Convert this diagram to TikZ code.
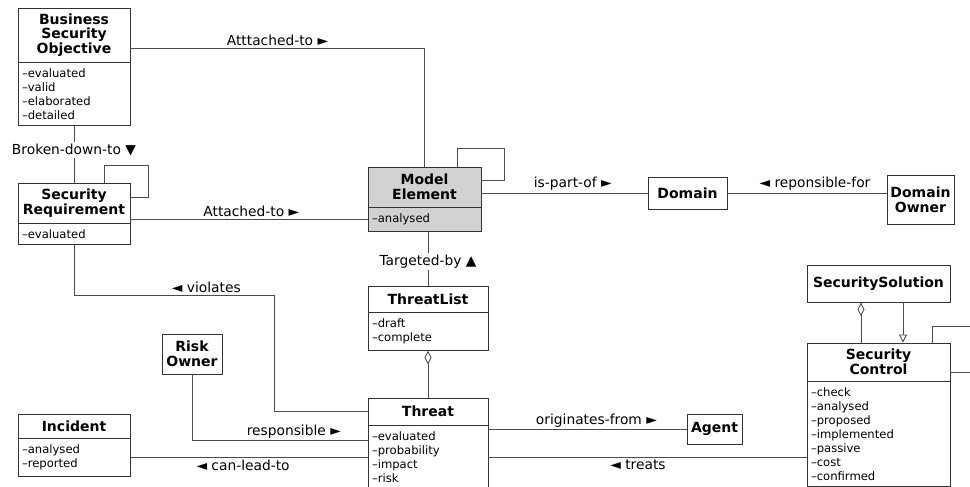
\documentclass[tikz,border=0pt]{standalone}
\usepackage{fontspec}
\setmainfont{DejaVu Sans}
\usetikzlibrary{arrows.meta,positioning}

\tikzset{
  hdr/.style={draw=black!80, fill=white, font=\bfseries\fontsize{14}{14.7}\selectfont, align=center, inner sep=1pt},
  attr/.style={draw=black!80, fill=white, font=\fontsize{11.6}{14}\selectfont, align=left, inner xsep=4pt, inner ysep=6pt},
  lbl/.style={font=\fontsize{13.8}{16}\selectfont, inner sep=2pt},
  agg/.style={{Diamond[open,length=14pt,width=7pt]}-},
  gen/.style={-{Triangle[open,length=8pt,width=8pt]}},
}

\begin{document}
\begin{tikzpicture}[x=1pt, y=-1pt, line width=0.9pt, draw=black!70]
	\clip (0,0) rectangle (970,487);
	
	% ----- classes
	\node[hdr, minimum width=112, minimum height=54] (bso) at (74,35) {Business\\Security\\Objective};
	\node[attr, text width=104pt, below=0pt of bso] (bsoa) {--evaluated\\--valid\\--elaborated\\--detailed};
	
	\node[hdr, minimum width=112, minimum height=40] (sr) at (74,203) {Security\\Requirement};
	\node[attr, text width=104pt, below=0pt of sr] (sra) {--evaluated};
	
	\node[hdr, fill=gray!35, minimum width=113, minimum height=40] (me) at (424.5,187) {Model\\Element};
	\node[attr, fill=gray!35, text width=105pt, below=0pt of me] (mea) {--analysed};
	
	\node[hdr, minimum width=79, minimum height=32] (dom) at (687.5,193) {Domain};
	\node[hdr, minimum width=67, minimum height=49] (do) at (920.5,199.5) {Domain\\Owner};
	
	\node[hdr, minimum width=120, minimum height=26] (tl) at (428,299) {ThreatList};
	\node[attr, text width=112pt, below=0pt of tl] (tla) {--draft\\--complete};
	
	\node[hdr, minimum width=120, minimum height=27] (th) at (428,411.5) {Threat};
	\node[attr, text width=112pt, below=0pt of th] (tha) {--evaluated\\--probability\\--impact\\--risk};
	
	\node[hdr, minimum width=60, minimum height=40] (ro) at (192,354) {Risk\\Owner};
	
	\node[hdr, minimum width=112, minimum height=24] (inc) at (74,426) {Incident};
	\node[attr, text width=104pt, below=0pt of inc] (inca) {--analysed\\--reported};
	
	\node[hdr, minimum width=55, minimum height=30] (ag) at (714.5,429) {Agent};
	
	\node[hdr, minimum width=143, minimum height=37] (ss) at (878.5,283.5) {SecuritySolution};
	\node[hdr, minimum width=143, minimum height=38] (sc) at (878.5,362) {Security\\Control};
	\node[attr, text width=135pt, below=0pt of sc] (sca) {--check\\--analysed\\--proposed\\--implemented\\--passive\\--cost\\--confirmed};
	
	% free ends leaving the picture
	\coordinate (outA) at (975,326);
	\coordinate (outB) at (975,372);
	
	% ----- associations
	\draw ([yshift=-13pt]bso.east) -| (me.north) node[lbl, pos=0.25, above] {Atttached-to ►};
	\draw (bsoa.south) -- (sr.north) node[lbl, pos=0.42, fill=white] {Broken-down-to ▼};
	\draw ([xshift=30pt]sr.north) |- ++(44,-17) |- ([yshift=6pt]sr.east);
	\draw (mea.west -| sr.east) -- (mea.west) node[lbl, pos=0.51, above] {Attached-to ►};
	\draw ([xshift=32.5pt]me.north) |- ++(47,-18) |- ([yshift=7pt]me.east);
	\draw (dom.west -| me.east) -- (dom.west) node[lbl, pos=0.55, above] {is-part-of ►};
	\draw (dom.east) -- (dom.east -| do.west) node[lbl, pos=0.55, above] {◄ reponsible-for};
	\draw (tl.north) -- (tl.north |- mea.south) node[lbl, pos=0.45, fill=white] {Targeted-by ▲};
	\draw[agg] (tla.south) -- (th.north);
	\draw (sra.south) -- ++(0,50) -| ([xshift=-93pt]th.west) node[lbl, pos=0.33, above] {◄ violates} -- (th.west);
	\draw (ro.south) |- ([yshift=17pt]tha.west) node[lbl, pos=0.79, above] {responsible ►};
	\draw (inca.east) -- (inca.east -| tha.west) node[lbl, pos=0.475, below] {◄ can-lead-to};
	\draw (ag.west -| th.east) -- (ag.west) node[lbl, pos=0.545, above, inner sep=1pt] {originates-from ►};
	\draw (tha.east) -- (tha.east -| sca.west) node[lbl, pos=0.47, below] {◄ treats};
	
	% ----- solution / control
	\draw[agg] ([xshift=-17.5pt]ss.south) -- ([xshift=-17.5pt]sc.north);
	\draw[gen] ([xshift=24.5pt]ss.south) -- ([xshift=24.5pt]sc.north);
	\draw ([xshift=53.5pt]sc.north) |- (outA);
	\draw (sc.east |- outB) -- (outB);
	
\end{tikzpicture}
\end{document}
